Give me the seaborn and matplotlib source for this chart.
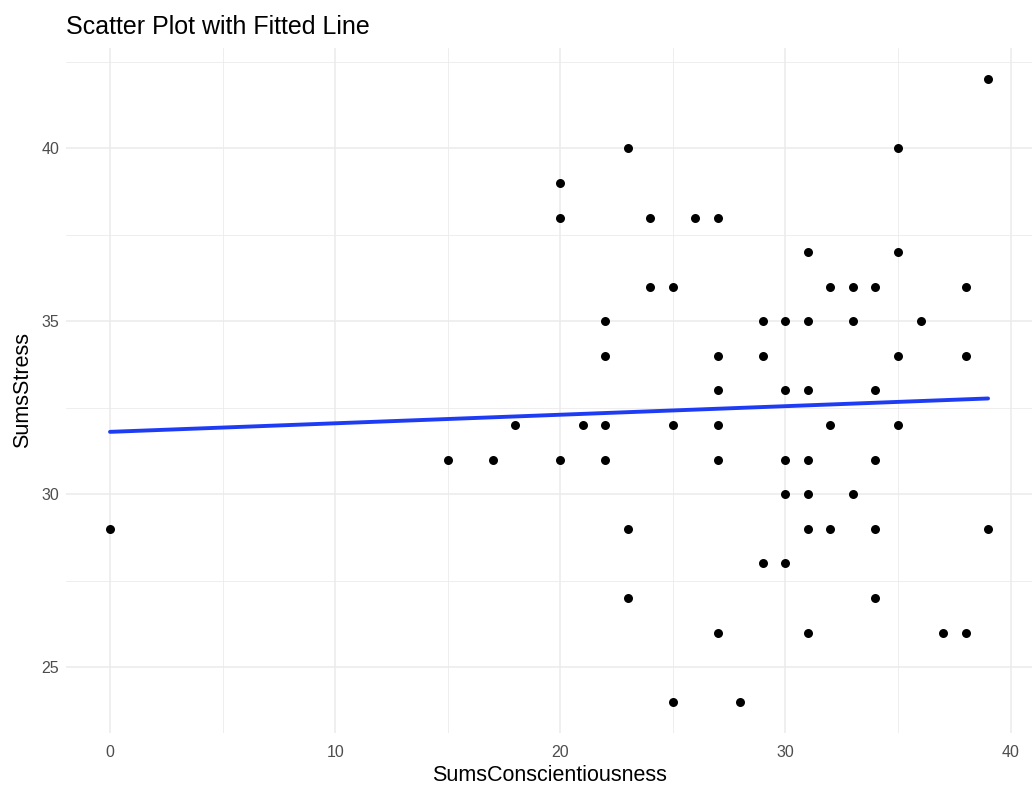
import numpy as np
import pandas as pd
from matplotlib import pyplot as plt
from matplotlib.ticker import MultipleLocator
import seaborn as sns

conscientiousness = [
    0, 15, 17, 18, 20, 20, 20, 21, 22, 22, 22, 22, 23, 23, 23, 24, 24,
    25, 25, 25, 26, 27, 27, 27, 27, 27, 27, 28, 29, 29, 29,
    30, 30, 30, 30, 30, 31, 31, 31, 31, 31, 31, 31, 32, 32, 32,
    33, 33, 33, 34, 34, 34, 34, 34, 35, 35, 35, 35, 36, 37,
    38, 38, 38, 39, 39,
]
stress = [
    29, 31, 31, 32, 39, 38, 31, 32, 35, 34, 32, 31, 40, 29, 27, 38, 36,
    36, 32, 24, 38, 38, 34, 33, 32, 31, 26, 24, 35, 34, 28,
    35, 33, 31, 30, 28, 37, 35, 33, 31, 30, 29, 26, 36, 32, 29,
    36, 35, 30, 36, 33, 31, 29, 27, 40, 37, 34, 32, 35, 26,
    36, 34, 26, 42, 29,
]

df = pd.DataFrame({"SumsConscientiousness": conscientiousness, "SumsStress": stress})

sns.set_theme(style="white")
plt.rcParams["font.family"] = ["Liberation Sans", "DejaVu Sans"]

fig = plt.figure(figsize=(10.33, 7.88), dpi=100)
ax = fig.add_axes([0.064, 0.070, 0.935, 0.869])

sns.regplot(data=df, x="SumsConscientiousness", y="SumsStress", ci=None, ax=ax,
            scatter_kws={"color": "black", "s": 42, "alpha": 1, "linewidths": 0, "zorder": 3},
            line_kws={"color": "#1f3cf5", "linewidth": 2.8, "zorder": 4},
            truncate=True)

# ggplot-like expansion of the limits
ax.set_xlim(-1.95, 40.95)
ax.set_ylim(23.1, 42.9)
ax.xaxis.set_major_locator(MultipleLocator(10))
ax.xaxis.set_minor_locator(MultipleLocator(5))
ax.yaxis.set_major_locator(MultipleLocator(5))
ax.yaxis.set_minor_locator(MultipleLocator(2.5))
ax.grid(which="major", color="#ebebeb", linewidth=1.1, zorder=0)
ax.grid(which="minor", color="#ebebeb", linewidth=0.6, zorder=0)
ax.set_axisbelow(True)
for s in ax.spines.values():
    s.set_visible(False)
ax.tick_params(which="both", length=0, labelsize=11.5, labelcolor="#4d4d4d")
ax.tick_params(axis="x", pad=9)
ax.tick_params(axis="y", pad=5)
ax.set_xlabel("SumsConscientiousness", fontsize=15.5, color="black", labelpad=3)
ax.set_ylabel("SumsStress", fontsize=15.5, color="black", labelpad=6)
ax.set_title("Scatter Plot with Fitted Line", fontsize=18, color="black", loc="left", pad=10)

fig.savefig("out.png", dpi=100)
